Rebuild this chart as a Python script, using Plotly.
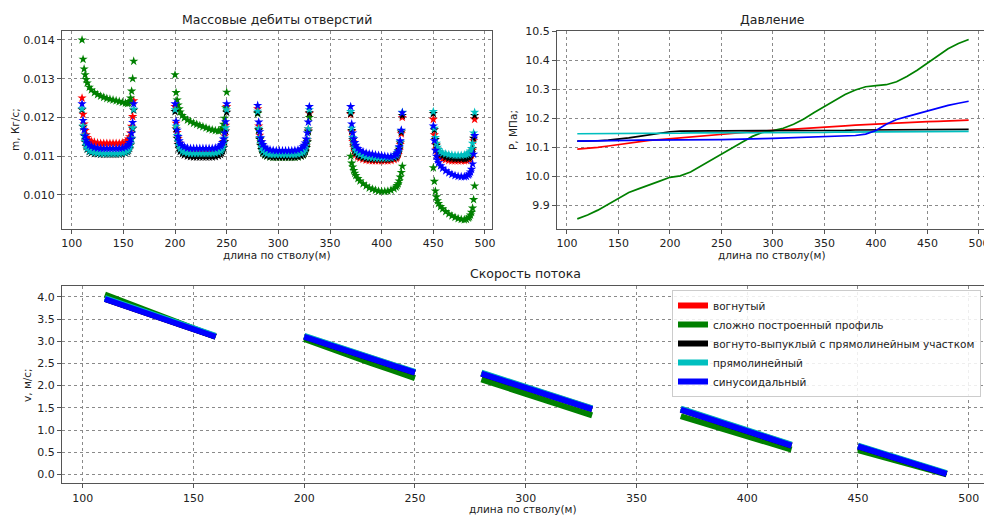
import plotly.graph_objects as go

# ---------------- data ----------------
SERIES = ["вогнутый", "сложно построенный профиль",
          "вогнуто-выпуклый с прямолинейным участком", "прямолинейный", "синусоидальный"]
COLORS = ["#ff0000", "#008000", "#000000", "#00bfbf", "#0000ff"]

# hole positions (m) for the mass-flow panel
HOLE_X1 = [110,111,112,113,114,115,117,119,122,125,128,131,134,137,140,143,146,149,152,154,155,156,157,158,159,160]
HOLE_X2 = [200,201,202,203,204,205,207,209,212,215,218,221,224,227,230,233,236,239,242,244,245,246,247,248,249,250]
HOLE_X3 = [280,281,282,283,284,285,287,289,292,295,298,301,304,307,310,313,316,319,322,324,325,326,327,328,329,330]
HOLE_X4 = [370,371,372,373,374,375,377,379,382,385,388,391,394,397,400,403,406,409,412,414,415,416,417,418,419,420]
HOLE_X5 = [450,451,452,453,454,455,457,459,462,465,468,471,474,477,480,482,484,485,486,487,488,489,490]

# mass flow rates, kg/s
M_RED = [
    [0.01250,0.01208,0.01183,0.01166,0.01155,0.01148,0.01141,0.01138,0.01136,0.01134,0.01133,0.01133,0.01133,0.01133,0.01133,0.01133,0.01133,0.01134,0.01136,0.01140,0.01144,0.01150,0.01160,0.01177,0.01202,0.01243],
    [0.01228,0.01185,0.01161,0.01145,0.01134,0.01127,0.01121,0.01118,0.01115,0.01114,0.01113,0.01112,0.01112,0.01112,0.01112,0.01112,0.01113,0.01114,0.01116,0.01119,0.01123,0.01128,0.01137,0.01152,0.01180,0.01228],
    [0.01222,0.01178,0.01154,0.01138,0.01127,0.01120,0.01113,0.01109,0.01106,0.01104,0.01103,0.01102,0.01102,0.01102,0.01102,0.01102,0.01103,0.01104,0.01106,0.01109,0.01113,0.01118,0.01127,0.01142,0.01170,0.01210],
    [0.01208,0.01163,0.01138,0.01122,0.01111,0.01104,0.01098,0.01095,0.01092,0.01090,0.01089,0.01088,0.01088,0.01088,0.01088,0.01088,0.01088,0.01089,0.01091,0.01094,0.01098,0.01104,0.01114,0.01130,0.01158,0.01200],
    [0.01195,0.01155,0.01130,0.01116,0.01107,0.01101,0.01096,0.01093,0.01091,0.01089,0.01088,0.01088,0.01088,0.01088,0.01088,0.01089,0.01091,0.01093,0.01097,0.01103,0.01115,0.01140,0.01195],
]
M_GREEN = [
    [0.01400,0.01350,0.01325,0.01310,0.01298,0.01289,0.01278,0.01271,0.01264,0.01259,0.01255,0.01252,0.01249,0.01247,0.01245,0.01243,0.01241,0.01239,0.01237,0.01236,0.01237,0.01241,0.01250,0.01268,0.01300,0.01345],
    [0.01310,0.01264,0.01245,0.01232,0.01222,0.01214,0.01205,0.01199,0.01193,0.01189,0.01185,0.01182,0.01179,0.01176,0.01173,0.01170,0.01168,0.01166,0.01165,0.01166,0.01168,0.01173,0.01182,0.01198,0.01225,0.01265],
    [0.01210,0.01167,0.01143,0.01127,0.01116,0.01109,0.01103,0.01100,0.01098,0.01097,0.01097,0.01097,0.01097,0.01097,0.01097,0.01097,0.01097,0.01098,0.01100,0.01103,0.01107,0.01112,0.01121,0.01136,0.01163,0.01200],
    [0.01100,0.01082,0.01072,0.01063,0.01056,0.01050,0.01042,0.01036,0.01029,0.01023,0.01018,0.01015,0.01012,0.01010,0.01009,0.01009,0.01010,0.01012,0.01016,0.01020,0.01024,0.01029,0.01036,0.01046,0.01058,0.01074],
    [0.01070,0.01035,0.01010,0.00995,0.00985,0.00978,0.00970,0.00964,0.00957,0.00951,0.00946,0.00942,0.00939,0.00937,0.00936,0.00937,0.00940,0.00943,0.00948,0.00955,0.00966,0.00988,0.01023],
]
M_BLACK = [
    [0.01220,0.01176,0.01152,0.01136,0.01125,0.01118,0.01112,0.01109,0.01107,0.01106,0.01105,0.01105,0.01105,0.01105,0.01105,0.01105,0.01105,0.01106,0.01108,0.01111,0.01115,0.01120,0.01129,0.01144,0.01171,0.01219],
    [0.01215,0.01170,0.01146,0.01130,0.01119,0.01112,0.01106,0.01103,0.01100,0.01099,0.01098,0.01098,0.01098,0.01098,0.01098,0.01098,0.01098,0.01099,0.01101,0.01104,0.01108,0.01113,0.01122,0.01137,0.01165,0.01213],
    [0.01212,0.01168,0.01144,0.01128,0.01117,0.01110,0.01104,0.01101,0.01099,0.01098,0.01098,0.01098,0.01098,0.01098,0.01098,0.01098,0.01098,0.01099,0.01101,0.01104,0.01108,0.01113,0.01122,0.01137,0.01165,0.01212],
    [0.01210,0.01166,0.01142,0.01126,0.01115,0.01108,0.01102,0.01099,0.01096,0.01094,0.01093,0.01092,0.01092,0.01092,0.01092,0.01092,0.01092,0.01093,0.01095,0.01098,0.01102,0.01108,0.01118,0.01134,0.01162,0.01205],
    [0.01210,0.01168,0.01143,0.01128,0.01118,0.01111,0.01104,0.01100,0.01097,0.01095,0.01094,0.01093,0.01093,0.01093,0.01093,0.01094,0.01096,0.01098,0.01102,0.01108,0.01120,0.01146,0.01205],
]
M_CYAN = [
    [0.01222,0.01178,0.01154,0.01138,0.01127,0.01120,0.01114,0.01111,0.01109,0.01108,0.01107,0.01107,0.01107,0.01107,0.01107,0.01107,0.01107,0.01108,0.01110,0.01113,0.01117,0.01122,0.01131,0.01146,0.01173,0.01221],
    [0.01220,0.01177,0.01153,0.01137,0.01126,0.01119,0.01113,0.01110,0.01108,0.01107,0.01107,0.01107,0.01107,0.01107,0.01107,0.01107,0.01107,0.01108,0.01110,0.01113,0.01117,0.01122,0.01131,0.01146,0.01173,0.01220],
    [0.01216,0.01172,0.01148,0.01132,0.01121,0.01114,0.01109,0.01106,0.01104,0.01104,0.01104,0.01104,0.01104,0.01104,0.01104,0.01104,0.01104,0.01105,0.01107,0.01110,0.01114,0.01119,0.01128,0.01143,0.01171,0.01220],
    [0.01215,0.01172,0.01148,0.01132,0.01121,0.01114,0.01108,0.01104,0.01100,0.01098,0.01097,0.01096,0.01095,0.01095,0.01095,0.01095,0.01095,0.01096,0.01098,0.01102,0.01106,0.01112,0.01122,0.01138,0.01166,0.01213],
    [0.01215,0.01172,0.01148,0.01133,0.01123,0.01117,0.01111,0.01108,0.01106,0.01104,0.01103,0.01102,0.01102,0.01102,0.01103,0.01104,0.01106,0.01109,0.01113,0.01120,0.01133,0.01160,0.01213],
]
M_BLUE = [
    [0.01235,0.01192,0.01168,0.01152,0.01141,0.01134,0.01128,0.01125,0.01122,0.01121,0.01120,0.01120,0.01120,0.01120,0.01120,0.01120,0.01120,0.01121,0.01123,0.01126,0.01130,0.01135,0.01144,0.01159,0.01187,0.01235],
    [0.01235,0.01190,0.01167,0.01151,0.01140,0.01133,0.01127,0.01124,0.01121,0.01120,0.01120,0.01120,0.01120,0.01120,0.01120,0.01120,0.01120,0.01121,0.01123,0.01126,0.01130,0.01135,0.01144,0.01160,0.01189,0.01235],
    [0.01231,0.01188,0.01163,0.01147,0.01137,0.01130,0.01123,0.01119,0.01116,0.01115,0.01114,0.01114,0.01114,0.01114,0.01114,0.01114,0.01115,0.01116,0.01119,0.01124,0.01128,0.01134,0.01144,0.01160,0.01188,0.01228],
    [0.01228,0.01183,0.01160,0.01145,0.01135,0.01128,0.01120,0.01115,0.01111,0.01108,0.01106,0.01105,0.01103,0.01102,0.01101,0.01100,0.01099,0.01099,0.01100,0.01104,0.01108,0.01114,0.01124,0.01140,0.01167,0.01212],
    [0.01178,0.01140,0.01115,0.01100,0.01090,0.01083,0.01075,0.01069,0.01062,0.01057,0.01053,0.01050,0.01048,0.01047,0.01047,0.01048,0.01051,0.01054,0.01059,0.01066,0.01080,0.01105,0.01153],
]

# pressure, MPa
P_X = [110,120,130,140,150,160,170,180,190,200,210,220,230,240,250,260,270,280,290,300,
       310,320,330,340,350,360,370,380,390,400,410,420,430,440,450,460,470,480,490]
P_RED = [10.094,10.096,10.100,10.105,10.110,10.116,10.120,10.124,10.127,10.130,10.134,10.138,10.141,10.144,10.147,10.150,10.152,10.154,10.156,10.158,
         10.161,10.163,10.165,10.168,10.170,10.172,10.174,10.177,10.179,10.181,10.183,10.185,10.186,10.188,10.189,10.190,10.192,10.193,10.194]
P_GREEN = [9.854,9.867,9.884,9.905,9.925,9.945,9.958,9.970,9.984,9.997,10.002,10.015,10.036,10.057,10.078,10.098,10.118,10.138,10.152,10.158,
           10.166,10.180,10.198,10.220,10.240,10.262,10.282,10.298,10.309,10.313,10.316,10.326,10.344,10.366,10.390,10.415,10.440,10.458,10.472]
P_BLACK = [10.122,10.122,10.123,10.125,10.128,10.133,10.138,10.144,10.150,10.154,10.156,10.157,10.157,10.157,10.157,10.157,10.157,10.158,10.158,10.158,
           10.158,10.158,10.159,10.159,10.159,10.159,10.159,10.160,10.160,10.160,10.160,10.161,10.161,10.161,10.161,10.162,10.162,10.162,10.162]
P_CYAN = [10.147,10.147,10.147,10.148,10.148,10.148,10.148,10.149,10.149,10.149,10.149,10.150,10.150,10.150,10.150,10.150,10.151,10.151,10.151,10.151,
          10.151,10.152,10.152,10.152,10.152,10.153,10.153,10.153,10.153,10.153,10.154,10.154,10.154,10.154,10.155,10.155,10.155,10.155,10.155]
P_BLUE = [10.122,10.122,10.123,10.123,10.124,10.124,10.125,10.125,10.126,10.126,10.126,10.127,10.127,10.127,10.127,10.128,10.128,10.129,10.130,10.131,
          10.132,10.133,10.134,10.135,10.136,10.138,10.139,10.141,10.146,10.158,10.180,10.196,10.206,10.216,10.226,10.236,10.245,10.252,10.259]

# flow velocity, m/s (None separates the perforated intervals)
V_X = [110,120,130,140,150,160,None,200,210,220,230,240,250,None,280,290,300,310,320,330,None,
       370,380,390,400,410,420,None,450,460,470,480,490]
V_RED = [3.96,3.79,3.62,3.45,3.28,3.11,None,3.11,2.94,2.78,2.62,2.46,2.30,None,2.28,2.12,1.96,1.80,1.64,1.48,None,
         1.47,1.31,1.14,0.98,0.82,0.66,None,0.64,0.49,0.33,0.18,0.02]
V_GREEN = [4.05,3.86,3.66,3.47,3.28,3.10,None,3.05,2.86,2.68,2.51,2.34,2.17,None,2.14,1.97,1.81,1.65,1.49,1.33,None,
           1.31,1.16,1.01,0.86,0.71,0.56,None,0.55,0.41,0.27,0.13,0.00]
V_BLACK = [3.95,3.78,3.61,3.44,3.27,3.10,None,3.10,2.93,2.77,2.61,2.45,2.29,None,2.27,2.11,1.95,1.79,1.63,1.47,None,
           1.46,1.30,1.13,0.97,0.81,0.65,None,0.63,0.48,0.32,0.17,0.01]
V_CYAN = [3.97,3.80,3.63,3.46,3.29,3.12,None,3.12,2.95,2.79,2.63,2.47,2.31,None,2.29,2.13,1.97,1.81,1.65,1.49,None,
          1.48,1.32,1.15,0.99,0.83,0.67,None,0.65,0.50,0.34,0.19,0.03]
V_BLUE = [3.95,3.78,3.61,3.44,3.27,3.10,None,3.10,2.93,2.77,2.61,2.45,2.29,None,2.27,2.11,1.95,1.79,1.63,1.47,None,
          1.46,1.30,1.13,0.97,0.81,0.65,None,0.63,0.48,0.32,0.17,0.01]

HOLE_X_ALL = HOLE_X1 + HOLE_X2 + HOLE_X3 + HOLE_X4 + HOLE_X5
M_ALL = [M_RED, M_GREEN, M_BLACK, M_CYAN, M_BLUE]
P_ALL = [P_RED, P_GREEN, P_BLACK, P_CYAN, P_BLUE]
V_ALL = [V_RED, V_GREEN, V_BLACK, V_CYAN, V_BLUE]

# ---------------- figure ----------------
W, H = 984, 515
FONT = "DejaVu Sans"
TXT = "#222222"

fig = go.Figure()

for name, col, m in zip(SERIES, COLORS, M_ALL):
    fig.add_trace(go.Scatter(
        x=HOLE_X_ALL, y=[v for seg in m for v in seg], mode="markers", name=name,
        marker=dict(symbol="star", size=7, color=col, line=dict(width=0)),
        xaxis="x", yaxis="y", showlegend=False))

for name, col, p in zip(SERIES, COLORS, P_ALL):
    fig.add_trace(go.Scatter(
        x=P_X, y=p, mode="lines", name=name, line=dict(color=col, width=1.7),
        xaxis="x2", yaxis="y2", showlegend=False))

for name, col, v in zip(SERIES, COLORS, V_ALL):
    fig.add_trace(go.Scatter(
        x=V_X, y=v, mode="lines", name=name, line=dict(color=col, width=6),
        xaxis="x3", yaxis="y3", showlegend=True, connectgaps=False))


def px_x(p):
    return p / W


def px_y(p):
    return 1 - p / H


axis_common = dict(
    showline=True, linecolor="#555555", linewidth=1, automargin=False,
    ticks="outside", ticklen=4, tickcolor="#555555", tickwidth=1,
    showgrid=True, gridcolor="#8a8a8a", griddash="dot", gridwidth=1,
    zeroline=False, tickfont=dict(family=FONT, size=11, color=TXT),
)

fig.update_layout(
    width=W, height=H, autosize=False,
    margin=dict(l=0, r=0, t=0, b=0, pad=0),
    paper_bgcolor="white", plot_bgcolor="white",
    font=dict(family=FONT, color=TXT),
    xaxis=dict(domain=[px_x(62), px_x(492)], range=[90.6, 506.8], tickvals=[100, 150, 200, 250, 300, 350, 400, 450, 500],
               anchor="y", mirror=True, **axis_common),
    yaxis=dict(domain=[px_y(229), px_y(31)], range=[0.00912, 0.01423],
               tickvals=[0.010, 0.011, 0.012, 0.013, 0.014], tickformat=".3f",
               anchor="x", mirror=True, **axis_common),
    xaxis2=dict(domain=[px_x(557), 1.0], range=[90.3, 504.9], tickvals=[100, 150, 200, 250, 300, 350, 400, 450, 500],
                anchor="y2", mirror=True, ticklabeloverflow="allow", **axis_common),
    yaxis2=dict(domain=[px_y(229), px_y(31)], range=[9.819, 10.501],
                tickvals=[9.9, 10.0, 10.1, 10.2, 10.3, 10.4, 10.5], tickformat=".1f",
                anchor="x2", mirror=False, **axis_common),
    xaxis3=dict(domain=[px_x(62), 1.0], range=[90.65, 506.9], tickvals=[100, 150, 200, 250, 300, 350, 400, 450, 500],
                anchor="y3", mirror=True, ticklabeloverflow="allow", **axis_common),
    yaxis3=dict(domain=[px_y(483.3), px_y(285.7)], range=[-0.2, 4.25],
                tickvals=[0, 0.5, 1.0, 1.5, 2.0, 2.5, 3.0, 3.5, 4.0], tickformat=".1f",
                anchor="x3", mirror=False, **axis_common),
    legend=dict(x=px_x(672), y=px_y(290), xanchor="left", yanchor="top",
                bgcolor="rgba(255,255,255,0.85)", bordercolor="#cccccc", borderwidth=1,
                font=dict(family=FONT, size=10.5, color=TXT), itemwidth=30,
                tracegroupgap=0),
)

annotations = [
    ("Массовые дебиты отверстий", 277, 19, 12.5, 0),
    ("Давление", 772, 19, 12.5, 0),
    ("Скорость потока", 525, 273, 12.5, 0),
    ("длина по стволу(м)", 277, 255, 10.5, 0),
    ("длина по стволу(м)", 772, 255, 10.5, 0),
    ("длина по стволу(м)", 523, 509, 10.5, 0),
    ("m, Кг/с;", 15, 130, 10.5, -90),
    ("P, МПа;", 513, 130, 10.5, -90),
    ("v, м/с;", 27, 385, 10.5, -90),
]
for text, x, y, size, ang in annotations:
    fig.add_annotation(text=text, x=px_x(x), y=px_y(y), xref="paper", yref="paper",
                       xanchor="center", yanchor="middle", showarrow=False, textangle=ang,
                       font=dict(family=FONT, size=size, color=TXT))

fig.write_html("out.html", config={"displayModeBar": False},
               post_script="document.body.style.margin='0px';")
